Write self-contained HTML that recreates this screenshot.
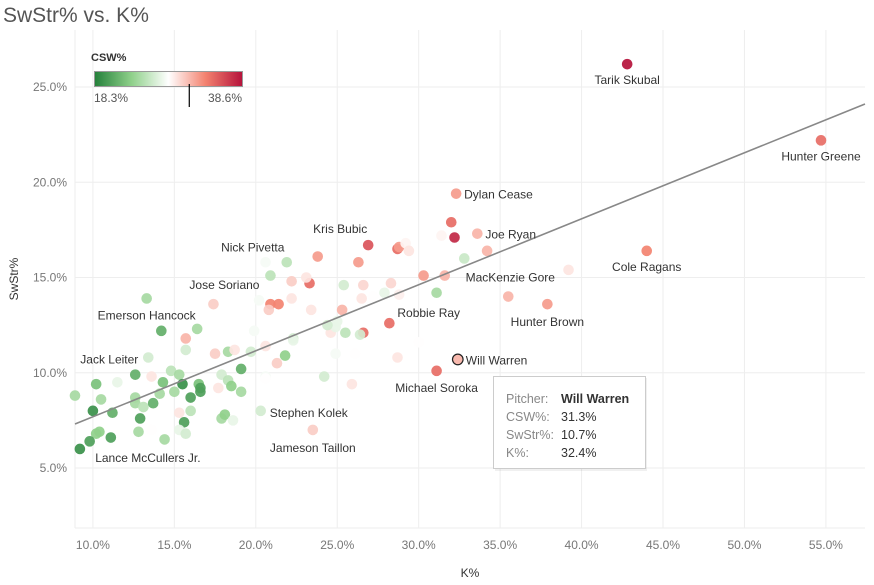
<!DOCTYPE html>
<html><head><meta charset="utf-8">
<style>
body{margin:0;background:#fff;font-family:"Liberation Sans",sans-serif;}
#wrap{position:relative;width:874px;height:585px;overflow:hidden;}
svg text{font-family:"Liberation Sans",sans-serif;}
</style></head>
<body>
<div id="wrap">
<svg id="chart" width="874" height="585"></svg>
</div>
<script>
// K% values
const kPct = [42.8,54.7,32.3,33.6,26.9,21.9,44.0,31.1,17.4,13.3,28.2,37.9,13.4,32.4,31.1,20.3,23.5,9.2,
23.8,20.6,20.9,22.2,23.3,23.1,20.9,21.4,20.8,22.2,23.4,20.2,14.2,16.4,15.7,19.9,15.7,18.3,18.7,17.5,20.6,22.3,21.8,21.3,
12.6,13.6,14.8,15.3,11.5,10.2,14.3,15.5,16.5,17.9,18.3,19.1,18.5,19.1,17.7,20.6,24.2,8.9,10.5,12.6,12.6,13.1,13.7,14.1,15.0,16.0,16.6,16.6,
10.0,11.2,12.9,16.0,15.3,17.9,18.1,18.6,15.6,10.4,10.2,9.8,11.1,12.8,13.6,14.4,15.3,15.7,
32.0,32.2,31.4,34.2,32.8,28.7,28.8,29.2,29.4,26.3,25.4,26.6,28.3,30.3,31.6,27.9,27.2,26.5,28.8,25.3,26.6,26.4,25.5,24.6,24.9,25.0,24.4,22.3,26.1,24.9,28.7,30.0,19.7,25.9,20.6,39.2,35.5];
// SwStr% values
const swStr = [26.2,22.2,19.4,17.3,16.7,15.8,16.4,14.2,13.6,13.9,12.6,13.6,10.8,10.7,10.1,8.0,7.0,6.0,
16.1,15.8,15.1,14.8,14.7,15.0,13.6,13.6,13.3,13.9,13.3,13.8,12.2,12.3,11.8,12.2,11.2,11.1,11.2,11.0,11.4,11.8,10.9,10.5,
9.9,9.8,10.1,9.9,9.5,9.4,9.5,9.4,9.4,9.9,9.6,10.2,9.3,9.0,9.2,9.8,9.8,8.8,8.6,8.7,8.4,8.2,8.4,8.9,9.0,8.7,9.0,9.2,
8.0,7.9,7.6,8.0,7.9,7.6,7.8,7.5,7.4,6.9,6.8,6.4,6.6,6.9,7.0,6.5,7.0,6.8,
17.9,17.1,17.2,16.4,16.0,16.5,16.6,16.8,16.4,15.8,14.6,14.6,14.7,15.1,15.1,14.2,14.0,13.9,14.1,13.3,12.1,12.0,12.1,12.1,12.4,12.7,12.5,11.7,11.0,11.0,10.8,11.6,11.1,9.4,9.7,15.4,14.0];
// CSW% values
const cswPct = [38.6,34.5,32.5,31.5,35.6,25.4,33.5,24.4,30.5,24.4,34.5,32.5,26.4,31.3,34.5,26.4,30.5,19.3,
32.5,28.0,25.4,30.5,34.5,29.5,33.5,33.5,30.5,29.5,29.5,28.0,21.3,24.4,31.5,28.0,26.4,24.4,29.5,30.5,29.5,26.4,23.4,30.5,
21.3,29.5,25.4,24.4,27.4,22.4,22.4,19.3,22.4,26.4,25.4,21.3,23.4,24.4,29.5,28.0,26.4,24.4,24.4,24.4,24.4,25.4,21.3,24.4,24.4,20.3,20.3,20.3,
19.3,21.3,20.3,25.4,29.5,24.4,23.4,27.4,20.3,23.4,23.4,20.3,20.3,24.4,28.5,24.4,27.4,26.4,
34.5,37.6,28.9,31.5,26.0,34.5,32.5,28.9,29.5,32.5,26.4,30.1,30.1,32.5,31.5,27.4,28.5,29.5,29.1,31.5,34.5,26.4,25.4,29.5,27.4,27.4,26.4,27.4,28.5,28.0,29.5,28.5,26.4,29.5,28.5,29.5,31.5];
// labelled pitchers (first 18 points)
const labelNames = ["Tarik Skubal","Hunter Greene","Dylan Cease","Joe Ryan","Kris Bubic","Nick Pivetta","Cole Ragans","MacKenzie Gore","Jose Soriano","Emerson Hancock","Robbie Ray","Hunter Brown","Jack Leiter","Will Warren","Michael Soroka","Stephen Kolek","Jameson Taillon","Lance McCullers Jr."];
const labelOffsets = [[0,20,"middle"],[0,20,"middle"],[8,5,"start"],[8,5,"start"],[-28,-12,"middle"],[-34,-11,"middle"],[0,20,"middle"],[29,-11,"start"],[11,-15,"middle"],[0,21,"middle"],[8,-6,"start"],[0,22,"middle"],[-39,6,"middle"],[8,5,"start"],[0,21,"middle"],[9,6,"start"],[0,22,"middle"],[68,13,"middle"]];
const xTicks = [10,15,20,25,30,35,40,45,50,55];
const yTicks = [5,10,15,20,25];

const L=75,R=865,T=30,B=528;
const xMin=8.9,xMax=57.4;
function xs(v){return L+(v-xMin)/(xMax-xMin)*(R-L);}
function ys(v){return 87+(25-v)*19.05;}
const cMin=18.3,cMax=38.6;
const stops=[[0,[36,128,58]],[0.25,[143,208,138]],[0.5,[255,255,255]],[0.75,[243,130,111]],[1,[181,18,59]]];
function col(v){let t=(v-cMin)/(cMax-cMin);t=Math.max(0,Math.min(1,t));
 for(let i=0;i<stops.length-1;i++){const a=stops[i],b=stops[i+1];if(t<=b[0]){const u=(t-a[0])/(b[0]-a[0]);
 return 'rgb('+a[1].map((c,j)=>Math.round(c+(b[1][j]-c)*u)).join(',')+')';}}return 'rgb(181,18,59)';}

const NS='http://www.w3.org/2000/svg';
const svg=document.getElementById('chart');
function mk(tag,attrs,parent){const e=document.createElementNS(NS,tag);for(const k in attrs)e.setAttribute(k,attrs[k]);(parent||svg).appendChild(e);return e;}

let t=mk('text',{x:3,y:22,'font-size':21,fill:'#555'});t.textContent='SwStr% vs. K%';



xTicks.forEach(v=>{const g=mk('line',{x1:xs(v),x2:xs(v),y1:T,y2:B,stroke:'#eee','stroke-width':1});


const tx=mk('text',{x:xs(v),y:549,'text-anchor':'middle','font-size':12,fill:'#777'});tx.textContent=v.toFixed(1)+'%';

});
yTicks.forEach(v=>{const g=mk('line',{x1:L,x2:R,y1:ys(v),y2:ys(v),stroke:'#eee','stroke-width':1});


const tx=mk('text',{x:67,y:ys(v)+4,'text-anchor':'end','font-size':12,fill:'#777'});tx.textContent=v.toFixed(1)+'%';

});
let bl=mk('line',{x1:L,x2:R,y1:B,y2:B,stroke:'#eee'});


let lfl=mk('line',{x1:L,x2:L,y1:T,y2:B,stroke:'#eee'});



let xt=mk('text',{x:470,y:577,'text-anchor':'middle','font-size':12,fill:'#333'});xt.textContent='K%';


let yt=mk('text',{x:0,y:0,'text-anchor':'middle','font-size':12,fill:'#333',transform:'translate(18,279) rotate(-90)'});yt.textContent='SwStr%';



const order=kPct.map((_,i)=>i).filter(i=>i!==13);order.push(13);
order.forEach(i=>{const c=mk('circle',{cx:xs(kPct[i]),cy:ys(swStr[i]),r:5.3,fill:col(cswPct[i]),'fill-opacity':0.92});
if(i===13){c.setAttribute('stroke','#222');c.setAttribute('stroke-width',1.2);c.setAttribute('fill-opacity',1);}

});

// trend line (least squares)
const n=kPct.length;let sx=0,sy=0,sxx=0,sxy=0;
for(let i=0;i<n;i++){sx+=kPct[i];sy+=swStr[i];sxx+=kPct[i]*kPct[i];sxy+=kPct[i]*swStr[i];}
const slope=(n*sxy-sx*sy)/(n*sxx-sx*sx),icpt=(sy-slope*sx)/n;
let tl=mk('line',{x1:xs(xMin),y1:ys(icpt+slope*xMin),x2:xs(xMax),y2:ys(icpt+slope*xMax),stroke:'#888','stroke-width':1.6});



labelNames.forEach((nm,j)=>{const idx=j;const o=labelOffsets[j];
const tx=mk('text',{x:xs(kPct[idx])+o[0],y:ys(swStr[idx])+o[1],'text-anchor':o[2],'font-size':12,fill:'#333'});tx.textContent=nm;

});

const defs=mk('defs',{});const lg=mk('linearGradient',{id:'grad',x1:0,x2:1,y1:0,y2:0},defs);
stops.forEach(s=>mk('stop',{offset:s[0],'stop-color':'rgb('+s[1].join(',')+')'},lg));
const legG=mk('g',{});


let lt=mk('text',{x:91,y:61,'font-size':11,'font-weight':'bold',fill:'#333'},legG);lt.textContent='CSW%';
let lr=mk('rect',{x:94.5,y:71.5,width:148,height:15,fill:'url(#grad)',stroke:'#999'},legG);


let l1=mk('text',{x:94,y:102,'font-size':12,fill:'#555'},legG);l1.textContent='18.3%';
let l2=mk('text',{x:242,y:102,'text-anchor':'end','font-size':12,fill:'#555'},legG);l2.textContent='38.6%';
const mx=94.5+(cswPct[13]-cMin)/(cMax-cMin)*148;
let mkr=mk('line',{x1:mx,x2:mx,y1:84,y2:107,stroke:'#000','stroke-width':1.2},legG);



const tg=mk('g',{});


mk('rect',{x:495,y:378,width:152,height:93,fill:'#000','fill-opacity':0.06},tg);
mk('rect',{x:493.5,y:376.5,width:152,height:92,fill:'#fff',stroke:'#ccc'},tg);
const rows=[['Pitcher:','Will Warren'],['CSW%:',cswPct[13].toFixed(1)+'%'],['SwStr%:',swStr[13].toFixed(1)+'%'],['K%:',kPct[13].toFixed(1)+'%']];
rows.forEach((r,i)=>{const a=mk('text',{x:506,y:403+i*18,'font-size':12.5,fill:'#888'},tg);a.textContent=r[0];
const b=mk('text',{x:561,y:403+i*18,'font-size':12.5,fill:'#333','font-weight':i===0?'bold':'normal'},tg);b.textContent=r[1];});
</script>
</body></html>
